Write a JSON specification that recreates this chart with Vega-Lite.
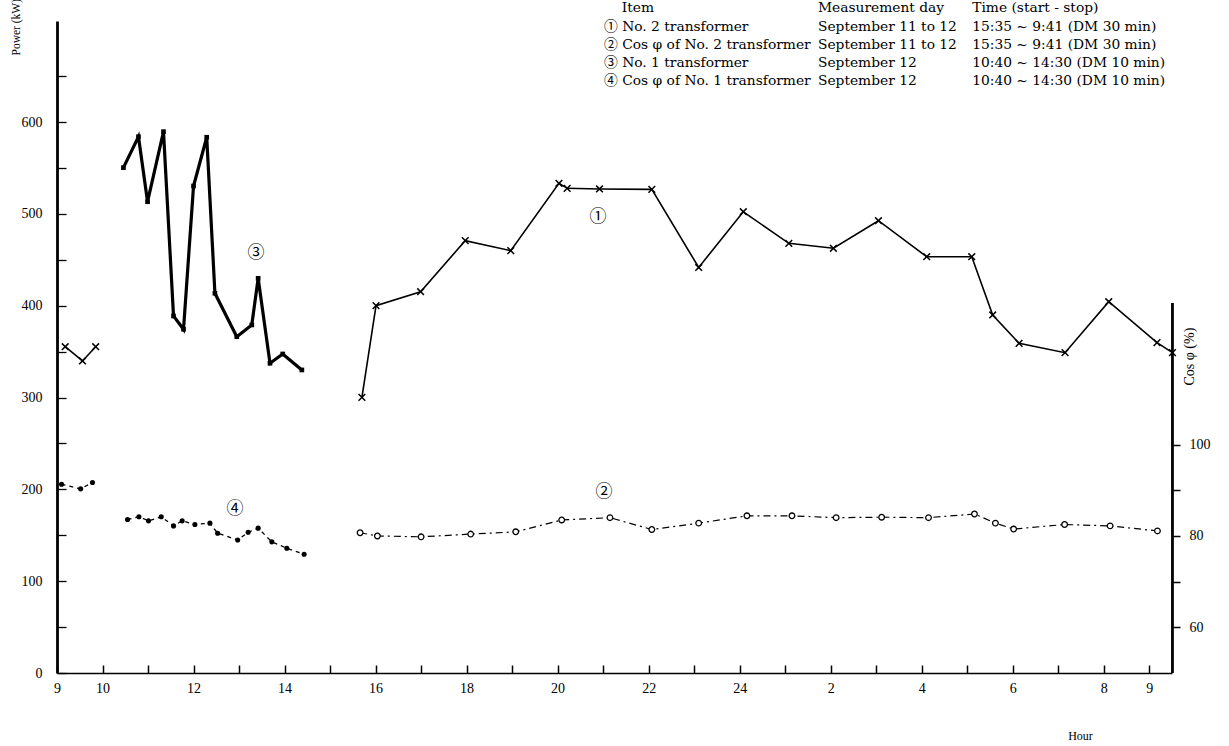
{
  "$schema": "https://vega.github.io/schema/vega-lite/v6.json",
  "width": 1115,
  "height": 652,
  "autosize": {"type": "none"},
  "padding": {"left": 57, "top": 21, "right": 57, "bottom": 73},
  "background": "white",
  "config": {
    "view": {"stroke": null},
    "font": "Liberation Serif",
    "axis": {"grid": false, "labelColor": "black", "titleColor": "black", "tickColor": "black", "domainColor": "black", "labelFont": "Liberation Serif", "titleFont": "Liberation Serif", "titleFontWeight": "normal", "labelFlush": false, "labelOverlap": false}
  },
  "datasets": {
    "kw": [
      {"s": "1", "seg": "a", "h": 9.18, "v": 355.3},
      {"s": "1", "seg": "a", "h": 9.56, "v": 339.8},
      {"s": "1", "seg": "a", "h": 9.85, "v": 355.3},
      {"s": "1", "seg": "b", "h": 15.70, "v": 300.2},
      {"s": "1", "seg": "b", "h": 16.01, "v": 400.0},
      {"s": "1", "seg": "b", "h": 16.99, "v": 415.2},
      {"s": "1", "seg": "b", "h": 17.97, "v": 470.8},
      {"s": "1", "seg": "b", "h": 18.97, "v": 459.9},
      {"s": "1", "seg": "b", "h": 20.03, "v": 533.3},
      {"s": "1", "seg": "b", "h": 20.21, "v": 527.8},
      {"s": "1", "seg": "b", "h": 20.92, "v": 527.1},
      {"s": "1", "seg": "b", "h": 22.07, "v": 526.7},
      {"s": "1", "seg": "b", "h": 23.10, "v": 441.6},
      {"s": "1", "seg": "b", "h": 24.08, "v": 502.3},
      {"s": "1", "seg": "b", "h": 25.08, "v": 467.9},
      {"s": "1", "seg": "b", "h": 26.06, "v": 462.5},
      {"s": "1", "seg": "b", "h": 27.05, "v": 492.5},
      {"s": "1", "seg": "b", "h": 28.11, "v": 453.3},
      {"s": "1", "seg": "b", "h": 29.10, "v": 453.3},
      {"s": "1", "seg": "b", "h": 29.56, "v": 389.9},
      {"s": "1", "seg": "b", "h": 30.14, "v": 359.0},
      {"s": "1", "seg": "b", "h": 31.15, "v": 348.8},
      {"s": "1", "seg": "b", "h": 32.11, "v": 404.3},
      {"s": "1", "seg": "b", "h": 33.17, "v": 359.7},
      {"s": "1", "seg": "b", "h": 33.51, "v": 348.8},
      {"s": "3", "seg": "c", "h": 10.46, "v": 550.3},
      {"s": "3", "seg": "c", "h": 10.79, "v": 584.0},
      {"s": "3", "seg": "c", "h": 10.99, "v": 513.2},
      {"s": "3", "seg": "c", "h": 11.34, "v": 589.5},
      {"s": "3", "seg": "c", "h": 11.56, "v": 388.8},
      {"s": "3", "seg": "c", "h": 11.78, "v": 374.3},
      {"s": "3", "seg": "c", "h": 12.00, "v": 530.3},
      {"s": "3", "seg": "c", "h": 12.29, "v": 583.4},
      {"s": "3", "seg": "c", "h": 12.47, "v": 413.5},
      {"s": "3", "seg": "c", "h": 12.95, "v": 366.2},
      {"s": "3", "seg": "c", "h": 13.28, "v": 379.0},
      {"s": "3", "seg": "c", "h": 13.42, "v": 429.8},
      {"s": "3", "seg": "c", "h": 13.68, "v": 337.3},
      {"s": "3", "seg": "c", "h": 13.96, "v": 347.4},
      {"s": "3", "seg": "c", "h": 14.38, "v": 330.0}
    ],
    "cos": [
      {"s": "2", "seg": "d", "h": 15.66, "v": 80.7},
      {"s": "2", "seg": "d", "h": 16.04, "v": 80.0},
      {"s": "2", "seg": "d", "h": 17.00, "v": 79.8},
      {"s": "2", "seg": "d", "h": 18.09, "v": 80.4},
      {"s": "2", "seg": "d", "h": 19.08, "v": 80.9},
      {"s": "2", "seg": "d", "h": 20.09, "v": 83.5},
      {"s": "2", "seg": "d", "h": 21.15, "v": 84.0},
      {"s": "2", "seg": "d", "h": 22.07, "v": 81.4},
      {"s": "2", "seg": "d", "h": 23.10, "v": 82.8},
      {"s": "2", "seg": "d", "h": 24.16, "v": 84.4},
      {"s": "2", "seg": "d", "h": 25.15, "v": 84.4},
      {"s": "2", "seg": "d", "h": 26.12, "v": 84.0},
      {"s": "2", "seg": "d", "h": 27.12, "v": 84.1},
      {"s": "2", "seg": "d", "h": 28.15, "v": 84.0},
      {"s": "2", "seg": "d", "h": 29.16, "v": 84.8},
      {"s": "2", "seg": "d", "h": 29.62, "v": 82.8},
      {"s": "2", "seg": "d", "h": 30.02, "v": 81.5},
      {"s": "2", "seg": "d", "h": 31.14, "v": 82.5},
      {"s": "2", "seg": "d", "h": 32.14, "v": 82.2},
      {"s": "2", "seg": "d", "h": 33.18, "v": 81.1},
      {"s": "4", "seg": "e", "h": 9.10, "v": 91.3},
      {"s": "4", "seg": "e", "h": 9.52, "v": 90.3},
      {"s": "4", "seg": "e", "h": 9.78, "v": 91.7},
      {"s": "4", "seg": "f", "h": 10.55, "v": 83.6},
      {"s": "4", "seg": "f", "h": 10.80, "v": 84.2},
      {"s": "4", "seg": "f", "h": 11.01, "v": 83.3},
      {"s": "4", "seg": "f", "h": 11.29, "v": 84.2},
      {"s": "4", "seg": "f", "h": 11.56, "v": 82.2},
      {"s": "4", "seg": "f", "h": 11.75, "v": 83.3},
      {"s": "4", "seg": "f", "h": 12.03, "v": 82.5},
      {"s": "4", "seg": "f", "h": 12.36, "v": 82.8},
      {"s": "4", "seg": "f", "h": 12.53, "v": 80.6},
      {"s": "4", "seg": "f", "h": 12.97, "v": 79.1},
      {"s": "4", "seg": "f", "h": 13.20, "v": 80.8},
      {"s": "4", "seg": "f", "h": 13.42, "v": 81.7},
      {"s": "4", "seg": "f", "h": 13.72, "v": 78.7},
      {"s": "4", "seg": "f", "h": 14.05, "v": 77.3},
      {"s": "4", "seg": "f", "h": 14.43, "v": 76.0}
    ],
    "marks": [
      {"t": "①", "h": 20.89, "v": 496.6},
      {"t": "②", "h": 21.02, "v": 197.1},
      {"t": "③", "h": 13.37, "v": 457.4},
      {"t": "④", "h": 12.91, "v": 178.6}
    ],
    "table": [
      {"t": "Item", "h": 21.41, "v": 724.2},
      {"t": "Measurement day", "h": 25.72, "v": 724.2},
      {"t": "Time (start - stop)", "h": 29.11, "v": 724.2},
      {"t": "① No. 2 transformer", "h": 21.02, "v": 703.5},
      {"t": "September 11 to 12", "h": 25.72, "v": 703.5},
      {"t": "15:35 ~ 9:41 (DM 30 min)", "h": 29.11, "v": 703.5},
      {"t": "② Cos φ of No. 2 transformer", "h": 21.02, "v": 683.9},
      {"t": "September 11 to 12", "h": 25.72, "v": 683.9},
      {"t": "15:35 ~ 9:41 (DM 30 min)", "h": 29.11, "v": 683.9},
      {"t": "③ No. 1 transformer", "h": 21.02, "v": 664.3},
      {"t": "September 12", "h": 25.72, "v": 664.3},
      {"t": "10:40 ~ 14:30 (DM 10 min)", "h": 29.11, "v": 664.3},
      {"t": "④ Cos φ of No. 1 transformer", "h": 21.02, "v": 644.7},
      {"t": "September 12", "h": 25.72, "v": 644.7},
      {"t": "10:40 ~ 14:30 (DM 10 min)", "h": 29.11, "v": 644.7}
    ]
  },
  "layer": [
    {
      "encoding": {
        "x": {
          "field": "h", "type": "quantitative",
          "scale": {"domain": [9, 33.5], "nice": false, "zero": false},
          "axis": {
            "values": [9,10,11,12,13,14,15,16,17,18,19,20,21,22,23,24,25,26,27,28,29,30,31,32,33],
            "labelExpr": "indexof([9,10,12,14,16,18,20,22,24,26,28,30,32,33], datum.value) >= 0 ? (datum.value > 24 ? datum.value - 24 : datum.value) : ''",
            "tickSize": -8, "tickWidth": 1.5, "domainWidth": 1.5,
            "labelFontSize": 14, "labelPadding": 16,
            "title": "Hour", "titleX": 1023, "titleY": 62, "titleFontSize": 12,
            "titleBaseline": "middle", "titleAlign": "center", "titleAngle": 0
          }
        },
        "y": {
          "field": "v", "type": "quantitative",
          "scale": {"domain": [0, 710], "nice": false, "zero": true},
          "axis": {
            "orient": "left",
            "values": [0,50,100,150,200,250,300,350,400,450,500,550,600,650],
            "labelExpr": "datum.value % 100 == 0 ? datum.value : ''",
            "tickSize": -9, "tickWidth": 1.3, "domainWidth": 2.8,
            "labelFontSize": 14, "labelPadding": 24,
            "title": "Power (kW)", "titleAngle": -90, "titleX": -36, "titleY": 34,
            "titleAlign": "left", "titleBaseline": "bottom", "titleFontSize": 11.5
          }
        }
      },
      "layer": [
        {
          "data": {"name": "kw"},
          "transform": [{"filter": "datum.s == '1'"}],
          "mark": {"type": "line", "color": "black", "strokeWidth": 1.6},
          "encoding": {"detail": {"field": "seg"}}
        },
        {
          "data": {"name": "kw"},
          "transform": [{"filter": "datum.s == '1'"}],
          "mark": {"type": "point", "shape": "M-1,-1L1,1M-1,1L1,-1", "filled": false, "stroke": "black", "strokeWidth": 1.5, "size": 45, "opacity": 1}
        },
        {
          "data": {"name": "kw"},
          "transform": [{"filter": "datum.s == '3'"}],
          "mark": {"type": "line", "color": "black", "strokeWidth": 3.2, "strokeJoin": "miter"},
          "encoding": {"detail": {"field": "seg"}}
        },
        {
          "data": {"name": "kw"},
          "transform": [{"filter": "datum.s == '3'"}],
          "mark": {"type": "point", "shape": "square", "filled": true, "color": "black", "size": 22, "opacity": 1}
        },
        {
          "data": {"name": "marks"},
          "mark": {"type": "text", "font": "Noto Sans CJK JP", "fontSize": 17, "color": "black", "align": "center", "baseline": "middle"},
          "encoding": {"text": {"field": "t"}}
        },
        {
          "data": {"name": "table"},
          "mark": {"type": "text", "font": "DejaVu Serif, Noto Sans CJK JP", "fontSize": 13.8, "color": "black", "align": "left", "baseline": "middle"},
          "encoding": {"text": {"field": "t"}}
        }
      ]
    },
    {
      "encoding": {
        "x": {
          "field": "h", "type": "quantitative",
          "scale": {"domain": [9, 33.5], "nice": false, "zero": false}
        }
      },
      "layer": [
        {
          "data": {"name": "cos"},
          "transform": [{"filter": "datum.s == '2'"}],
          "mark": {"type": "line", "color": "black", "strokeWidth": 1.2, "strokeDash": [7, 4, 2, 4]},
          "encoding": {
            "detail": {"field": "seg"},
            "y": {
              "field": "v", "type": "quantitative",
              "scale": {"domain": [50, 192.7], "nice": false, "zero": false},
              "axis": {
                "orient": "right",
                "values": [60, 70, 80, 90, 100],
                "labelExpr": "datum.value % 20 == 0 ? datum.value : ''",
                "domain": false, "ticks": true, "tickSize": 8, "tickWidth": 1.5,
                "labelFontSize": 14, "labelPadding": 9,
                "title": "Cos φ (%)", "titleAngle": -90, "titleX": 24, "titleY": 364,
                "titleAlign": "left", "titleBaseline": "bottom", "titleFontSize": 14
              }
            }
          }
        },
        {
          "data": {"name": "cos"},
          "transform": [{"filter": "datum.s == '2'"}],
          "mark": {"type": "point", "shape": "circle", "filled": true, "fill": "white", "stroke": "black", "strokeWidth": 1.3, "size": 32, "opacity": 1},
          "encoding": {"y": {"field": "v", "type": "quantitative", "scale": {"domain": [50, 192.7], "nice": false, "zero": false}}}
        },
        {
          "data": {"name": "cos"},
          "transform": [{"filter": "datum.s == '4'"}],
          "mark": {"type": "line", "color": "black", "strokeWidth": 1.3, "strokeDash": [4, 4]},
          "encoding": {
            "detail": {"field": "seg"},
            "y": {"field": "v", "type": "quantitative", "scale": {"domain": [50, 192.7], "nice": false, "zero": false}}
          }
        },
        {
          "data": {"name": "cos"},
          "transform": [{"filter": "datum.s == '4'"}],
          "mark": {"type": "point", "shape": "circle", "filled": true, "color": "black", "size": 26, "opacity": 1},
          "encoding": {"y": {"field": "v", "type": "quantitative", "scale": {"domain": [50, 192.7], "nice": false, "zero": false}}}
        },
        {
          "data": {"name": "kw"},
          "transform": [{"aggregate": [{"op": "max", "field": "h", "as": "h"}]}],
          "mark": {"type": "rule", "color": "black", "strokeWidth": 2.8},
          "encoding": {
            "y": {
              "datum": 50, "type": "quantitative",
              "scale": {"domain": [50, 192.7], "nice": false, "zero": false},
              "axis": {
                "orient": "right",
                "values": [60, 70, 80, 90, 100],
                "labelExpr": "datum.value % 20 == 0 ? datum.value : ''",
                "domain": false, "ticks": true, "tickSize": 8, "tickWidth": 1.5,
                "labelFontSize": 14, "labelPadding": 9,
                "title": "Cos φ (%)", "titleAngle": -90, "titleX": 24, "titleY": 364,
                "titleAlign": "left", "titleBaseline": "bottom", "titleFontSize": 14
              }
            },
            "y2": {"datum": 131}
          }
        }
      ]
    }
  ],
  "resolve": {"scale": {"y": "independent"}}
}
